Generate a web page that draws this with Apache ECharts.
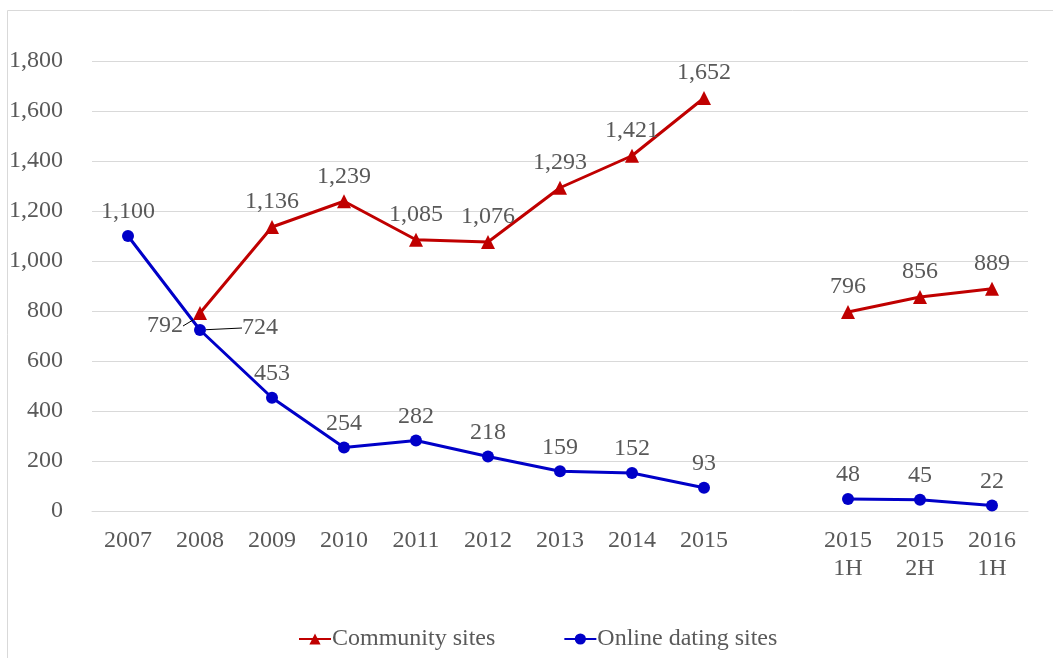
<!DOCTYPE html>
<html>
<head>
<meta charset="utf-8">
<script src="https://cdn.jsdelivr.net/npm/echarts@6/dist/echarts.min.js"></script>
<style>html,body{margin:0;padding:0;background:#fff}#c{width:1053px;height:658px}</style>
</head>
<body>
<div id="c"></div>
<script>
const categories = ['2007','2008','2009','2010','2011','2012','2013','2014','2015','','2015\n1H','2015\n2H','2016\n1H'];
const communitySites = [null,792,1136,1239,1085,1076,1293,1421,1652,null,796,856,889];
const onlineDatingSites = [1100,724,453,254,282,218,159,152,93,null,48,45,22];
const yTicks = {min:0, max:1800, interval:200};

const chart = echarts.init(document.getElementById('c'));
const font = 'Liberation Serif';
const txt = '#595959';
const fmt = v => Number(v).toLocaleString('en-US');
const withLeader = (arr, idx) => arr.map((v,i) => i===idx ? {value:v, labelLine:{show:true, lineStyle:{color:'#000', width:1}}} : v);

chart.setOption({
  animation:false,
  textStyle:{fontFamily:font},
  graphic:[{type:'rect', shape:{x:7.5,y:10.5,width:1060,height:670}, style:{fill:'none',stroke:'#d9d9d9',lineWidth:1}, silent:true}],
  grid:{left:92, right:25, top:61, bottom:147},
  legend:{
    bottom:2, left:293, itemWidth:32, itemHeight:14, itemGap:68,
    textStyle:{fontFamily:font, fontSize:24, color:txt, padding:[0,0,0,-4]},
    data:['Community sites','Online dating sites']
  },
  xAxis:{
    type:'category', data:categories, boundaryGap:true,
    axisLine:{show:true, lineStyle:{color:'#d9d9d9'}},
    axisTick:{show:false},
    axisLabel:{fontFamily:font, fontSize:24, color:txt, margin:16, lineHeight:28, interval:0}
  },
  yAxis:{
    type:'value', min:yTicks.min, max:yTicks.max, interval:yTicks.interval,
    axisLine:{show:false}, axisTick:{show:false},
    splitLine:{lineStyle:{color:'#d9d9d9'}},
    axisLabel:{fontFamily:font, fontSize:24, color:txt, margin:29, formatter:fmt}
  },
  series:[
    {
      name:'Community sites', type:'line', data:withLeader(communitySites,1),
      symbol:'triangle', symbolSize:14,
      lineStyle:{color:'#C00000', width:3}, itemStyle:{color:'#C00000'},
      label:{show:true, position:'top', distance:6, fontFamily:font, fontSize:24, color:txt, formatter:p=>fmt(p.value)},
      labelLine:{show:false},
      labelLayout:function(p){ if(p.dataIndex===1){ return {dx:-35, dy:38}; } return {}; }
    },
    {
      name:'Online dating sites', type:'line', data:withLeader(onlineDatingSites,1),
      symbol:'circle', symbolSize:12,
      lineStyle:{color:'#0000C8', width:3}, itemStyle:{color:'#0000C8'},
      label:{show:true, position:'top', distance:6, fontFamily:font, fontSize:24, color:txt, formatter:p=>fmt(p.value)},
      labelLine:{show:false},
      labelLayout:function(p){ if(p.dataIndex===1){ return {dx:60, dy:22}; } return {}; }
    }
  ]
});
</script>
</body>
</html>
